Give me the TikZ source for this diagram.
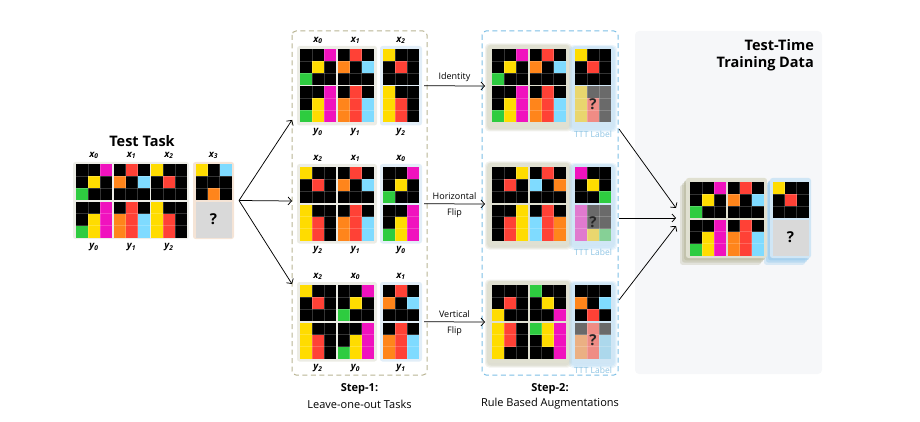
\documentclass[tikz,border=0pt]{standalone}
\usepackage{fontspec}
\setmainfont{Open Sans}
\usepackage{tikz}
\usetikzlibrary{arrows.meta}
\usetikzlibrary{positioning}

\definecolor{arcK}{HTML}{000000}
\definecolor{arcY}{HTML}{FFDC00}
\definecolor{arcM}{HTML}{F012BE}
\definecolor{arcR}{HTML}{FF4136}
\definecolor{arcO}{HTML}{FF851B}
\definecolor{arcC}{HTML}{7FDBFF}
\definecolor{arcG}{HTML}{2ECC40}
\definecolor{fadeK}{HTML}{6A6A6A}
\definecolor{fadeY}{HTML}{E9D66E}
\definecolor{fadeR}{HTML}{EF8C85}
\definecolor{fadeM}{HTML}{E07ACF}
\definecolor{fadeG}{HTML}{86D096}
\definecolor{fadeO}{HTML}{EBB083}
\definecolor{fadeC}{HTML}{ACD8EC}
\definecolor{taskbg}{HTML}{EDEDE7}
\definecolor{querybg}{HTML}{F5E4D6}
\definecolor{loogray}{HTML}{ECECE5}
\definecolor{looblue}{HTML}{E2EEF8}
\definecolor{auggray}{HTML}{E0E0D1}
\definecolor{augshade}{HTML}{BDBDA5}
\definecolor{tttblue}{HTML}{D0E6F5}
\definecolor{tttshade}{HTML}{9FCEEE}
\definecolor{tttlabel}{HTML}{8CC3E3}
\definecolor{qgray}{HTML}{D9D9D9}
\definecolor{dashbeige}{HTML}{B9B493}
\definecolor{dashblue}{HTML}{7CBFE5}
\definecolor{databg}{HTML}{F6F7F9}

% colour lists of the 3x3 grids, row by row
\def\xzero{arcK,arcK,arcM,arcK,arcY,arcK,arcG,arcK,arcK}
\def\yzero{arcK,arcK,arcM,arcK,arcY,arcM,arcG,arcY,arcM}
\def\xone{arcK,arcR,arcK,arcO,arcK,arcC,arcK,arcK,arcK}
\def\yone{arcK,arcR,arcK,arcO,arcR,arcC,arcO,arcR,arcC}
\def\xtwo{arcY,arcK,arcK,arcK,arcR,arcK,arcK,arcK,arcK}
\def\ytwo{arcY,arcK,arcK,arcY,arcR,arcK,arcY,arcR,arcK}
\def\xthree{arcY,arcK,arcC,arcK,arcK,arcK,arcK,arcO,arcK}
\def\xtwoH{arcK,arcK,arcY,arcK,arcR,arcK,arcK,arcK,arcK}
\def\ytwoH{arcK,arcK,arcY,arcK,arcR,arcY,arcK,arcR,arcY}
\def\xoneH{arcK,arcR,arcK,arcC,arcK,arcO,arcK,arcK,arcK}
\def\yoneH{arcK,arcR,arcK,arcC,arcR,arcO,arcC,arcR,arcO}
\def\xzeroH{arcM,arcK,arcK,arcK,arcY,arcK,arcK,arcK,arcG}
\def\xtwoV{arcK,arcK,arcK,arcK,arcR,arcK,arcY,arcK,arcK}
\def\ytwoV{arcY,arcR,arcK,arcY,arcR,arcK,arcY,arcK,arcK}
\def\xzeroV{arcG,arcK,arcK,arcK,arcY,arcK,arcK,arcK,arcM}
\def\yzeroV{arcG,arcY,arcM,arcK,arcY,arcM,arcK,arcK,arcM}
\def\xoneV{arcK,arcK,arcK,arcO,arcK,arcC,arcK,arcR,arcK}
\def\ytwoF{fadeY,fadeK,fadeK,fadeY,fadeR,fadeK,fadeY,fadeR,fadeK}
\def\yzeroF{fadeM,fadeK,fadeK,fadeM,fadeK,fadeK,fadeM,fadeY,fadeG}
\def\yoneF{fadeK,fadeR,fadeK,fadeO,fadeR,fadeC,fadeO,fadeR,fadeC}

\newcommand{\arcgrid}[3]{%
  \foreach \cl [count=\i from 0] in #3 {
    \pgfmathtruncatemacro{\gcol}{mod(\i,3)}
    \pgfmathtruncatemacro{\grow}{div(\i,3)}
    \fill[\cl] ({#1+12*\gcol},{#2+12*\grow}) rectangle ++(12,12);
  }
  \foreach \k in {1,2} {
    \draw[cellline] ({#1+12*\k},#2) -- ++(0,36);
    \draw[cellline] (#1,{#2+12*\k}) -- ++(36,0);
  }
}
\newcommand{\arcpair}[4]{%
  \arcgrid{#1}{#2}{#3}
  \arcgrid{#1}{#2+37.5}{#4}
}
\newcommand{\xylab}[5]{%
  \node[gridlab] (#5x) at (#1+18,#2-8.5) {x\textsubscript{#3}};
  \node[gridlab] (#5y) at (#1+18,#2+83) {y\textsubscript{#4}};
}
\newcommand{\glow}[5]{%
  \foreach \g in {1,2,3} {
    \fill[#5, opacity=0.2, rounded corners=4pt] (#1-\g,#2-\g+1.5) rectangle (#3+\g,#4+\g+1.5);
  }
}

\tikzset{
  cellline/.style={draw=white, draw opacity=0.2, line width=0.5pt},
  flow/.style={-{Straight Barb[length=3.5pt,width=8pt]}, line width=0.75pt},
  panel/.style={inner sep=0pt, outer sep=0pt, anchor=north west, rounded corners=2.5pt},
  gridlab/.style={font=\fontsize{9.5}{10}\selectfont\bfseries\itshape, inner sep=0pt},
  steplab/.style={font=\fontsize{11}{12}\selectfont\bfseries, inner sep=0pt},
  stepsub/.style={font=\fontsize{11}{12}\selectfont, inner sep=0pt},
  fliplab/.style={font=\fontsize{9}{10}\selectfont, inner sep=0pt},
  tttlab/.style={font=\fontsize{8.5}{9}\selectfont, text=tttlabel, inner sep=0pt},
  qmark/.style={font=\fontsize{15}{15}\selectfont\bfseries, inner sep=0pt},
  stepbox/.style={line width=1pt, dash pattern=on 5pt off 3.5pt, rounded corners=4pt},
}

\begin{document}
\begin{tikzpicture}[x=1pt, y=-1pt]
  \useasboundingbox (0,0) rectangle (920,422);

  % test task
  \node[font=\fontsize{14.5}{15}\selectfont\bfseries, inner sep=0pt] (title) at (142,141) {Test Task};
  \node[panel, fill=taskbg, minimum width=116pt, minimum height=77pt] (task) at (73,162) {};
  \node[panel, fill=querybg, minimum width=41pt, minimum height=77pt] (query) at (193,162) {};
  \arcpair{76}{164}{\xzero}{\yzero}
  \arcpair{113.5}{164}{\xone}{\yone}
  \arcpair{151}{164}{\xtwo}{\ytwo}
  \arcgrid{195.5}{164}{\xthree}
  \fill[qgray] (195.5,201.5) rectangle ++(36,36);
  \node[qmark] (tq) at (213.5,219.5) {?};
  \xylab{76}{164}{0}{0}{t0}
  \xylab{113.5}{164}{1}{1}{t1}
  \xylab{151}{164}{2}{2}{t2}
  \node[gridlab] (t3x) at (213.5,155.5) {x\textsubscript{3}};

  % step 1
  \draw[stepbox, draw=dashbeige] (292,31) rectangle (427,375);
  \foreach \top/\nm in {49/A,167/B,285/C} {
    \node[panel, fill=loogray, minimum width=80pt, minimum height=79.5pt] (loo\nm) at (297,\top-3) {};
    \node[panel, fill=looblue, minimum width=42pt, minimum height=79.5pt] (held\nm) at (380,\top-3) {};
  }
  \arcpair{300}{49}{\xzero}{\yzero}
  \arcpair{337.5}{49}{\xone}{\yone}
  \arcpair{383}{49}{\xtwo}{\ytwo}
  \xylab{300}{49}{0}{0}{a0}
  \xylab{337.5}{49}{1}{1}{a1}
  \xylab{383}{49}{2}{2}{a2}
  \arcpair{300}{167}{\xtwo}{\ytwo}
  \arcpair{337.5}{167}{\xone}{\yone}
  \arcpair{383}{167}{\xzero}{\yzero}
  \xylab{300}{167}{2}{2}{b0}
  \xylab{337.5}{167}{1}{1}{b1}
  \xylab{383}{167}{0}{0}{b2}
  \arcpair{300}{285}{\xtwo}{\ytwo}
  \arcpair{337.5}{285}{\xzero}{\yzero}
  \arcpair{383}{285}{\xone}{\yone}
  \xylab{300}{285}{2}{2}{c0}
  \xylab{337.5}{285}{0}{0}{c1}
  \xylab{383}{285}{1}{1}{c2}
  \node[steplab] (step1) at (359.5,389) {Step-1:};
  \node[stepsub] (step1sub) at (359.5,404) {Leave-one-out Tasks};

  % step 2
  \draw[stepbox, draw=dashblue] (482,31) rectangle (618,375);
  \foreach \top/\nm in {49/A,167/B,285/C} {
    \glow{488}{\top-4}{569}{\top+78}{augshade}
    \glow{572}{\top-2.5}{614}{\top+78.5}{tttshade}
    \node[panel, fill=auggray, minimum width=81pt, minimum height=82pt] (aug\nm) at (488,\top-4) {};
    \node[panel, fill=tttblue, minimum width=42pt, minimum height=81pt] (ttt\nm) at (572,\top-2.5) {};
    \node[tttlab] (tttlab\nm) at (593,\top+85) {TTT Label};
  }
  \arcpair{492}{49}{\xzero}{\yzero}
  \arcpair{529.5}{49}{\xone}{\yone}
  \arcpair{575}{49}{\xtwo}{\ytwoF}
  \arcpair{492}{167}{\xtwoH}{\ytwoH}
  \arcpair{529.5}{167}{\xoneH}{\yoneH}
  \arcpair{575}{167}{\xzeroH}{\yzeroF}
  \arcpair{492}{285}{\xtwoV}{\ytwoV}
  \arcpair{529.5}{285}{\xzeroV}{\yzeroV}
  \arcpair{575}{285}{\xoneV}{\yoneF}
  \node[qmark, text=black!85] (qA) at (593,104.5) {?};
  \node[qmark, text=black!85] (qB) at (593,222.5) {?};
  \node[qmark, text=black!85] (qC) at (593,340.5) {?};
  \node[steplab] (step2) at (550,389) {Step-2:};
  \node[stepsub] (step2sub) at (550,404) {Rule Based Augmentations};

  % augmentation arrows
  \draw[flow] ([xshift=2pt]heldA.east) -- ([xshift=-3pt]augA.west) node[fliplab, midway, above=4pt] (idlab) {Identity};
  \draw[flow] ([xshift=2pt]heldB.east) -- ([xshift=-3pt]augB.west) node[fliplab, midway, above=4pt] (hlab) {Horizontal}
    node[fliplab, midway, below=4pt] (hflip) {Flip};
  \draw[flow] ([xshift=2pt]heldC.east) -- ([xshift=-3pt]augC.west) node[fliplab, midway, above=4pt] (vlab) {Vertical}
    node[fliplab, midway, below=4pt] (vflip) {Flip};

  % test-time training data
  \fill[databg, rounded corners=4pt] (635,31) rectangle (822,374);
  \node[font=\fontsize{14.5}{17}\selectfont\bfseries, align=right, anchor=north east, inner sep=0pt] (ttdata) at (814,39) {Test-Time\\Training Data};
  \foreach \s/\op in {6/0.35,4/0.5,2/0.7} {
    \fill[augshade, opacity=\op, rounded corners=2.5pt] (686-\s,178+\s*1.15) rectangle ++(81,80);
    \fill[tttshade, opacity=\op, rounded corners=2.5pt] (770-\s,178+\s*1.15) rectangle ++(41,80);
  }
  \node[panel, fill=auggray, minimum width=81pt, minimum height=80pt] (final) at (686,178) {};
  \node[panel, fill=tttblue, minimum width=41pt, minimum height=80pt] (finalq) at (770,178) {};
  \arcpair{690}{182}{\xzero}{\yzero}
  \arcpair{727.5}{182}{\xone}{\yone}
  \arcgrid{772.5}{182}{\xtwo}
  \fill[qgray] (772.5,219.5) rectangle ++(36,36);
  \node[qmark] (fq) at (790.5,237.5) {?};

  % connectors
  \coordinate (fan) at ([xshift=5pt]query.east);
  \coordinate (inA) at (292,120);
  \coordinate (inB) at (292,201);
  \coordinate (inC) at (292,284);
  \draw[flow] (fan) -- (inA);
  \draw[flow] (fan) -- (inB);
  \draw[flow] (fan) -- (inC);
  \coordinate (outA) at (619,129);
  \coordinate (outB) at (619,218);
  \coordinate (outC) at (619,300);
  \draw[flow] (outA) -- ([xshift=-10pt, yshift=10pt]final.west);
  \draw[flow] (outB) -- ([xshift=-10pt]final.west);
  \draw[flow] (outC) -- ([xshift=-10pt, yshift=-8pt]final.west);
\end{tikzpicture}
\end{document}
